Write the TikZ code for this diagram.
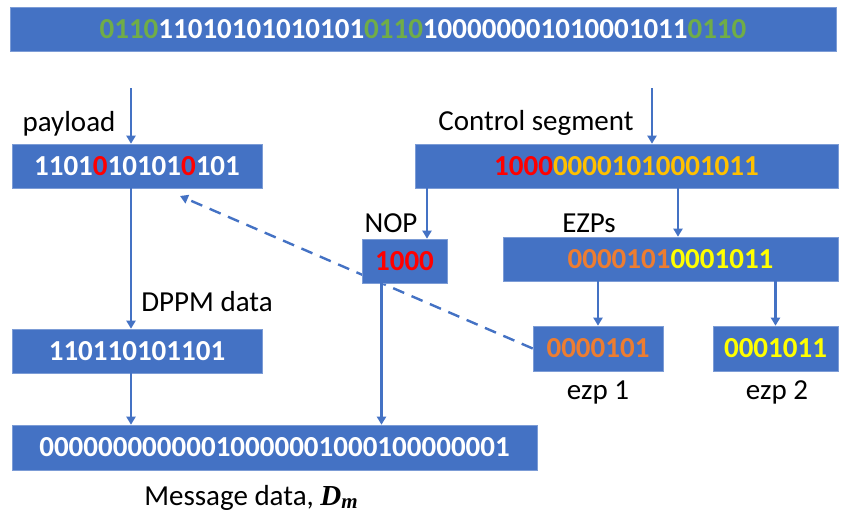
\documentclass[tikz,border=0pt]{standalone}
\usepackage{fontspec}
\setmainfont{Carlito}
\newfontfamily\symbfont{Liberation Serif}
\usepackage{tikz}
\usetikzlibrary{arrows.meta}
\usetikzlibrary{backgrounds}
\definecolor{boxblue}{HTML}{4472C4}
\definecolor{bitgreen}{HTML}{70AD47}
\definecolor{bitred}{HTML}{FF0000}
\definecolor{bitorange}{HTML}{ED7D31}
\definecolor{bitgold}{HTML}{FFC000}
\definecolor{bityellow}{HTML}{FFFF00}
\newcommand{\msgsym}{{\symbfont\bfseries\itshape D\raisebox{-3pt}{\fontsize{21}{24}\selectfont m}}}

\begin{document}
\begin{tikzpicture}[x=1pt,y=-1pt,
    bitbox/.style={fill=boxblue,draw=boxblue!70!white,line width=0.6pt,text=white,
        font=\fontsize{29}{34}\selectfont\bfseries,inner sep=0pt,minimum height=44pt},
    tag/.style={anchor=base,font=\fontsize{29}{34}\selectfont,text=black,inner sep=0pt},
    flow/.style={draw=boxblue,line width=2.4pt,-{Triangle[width=9pt,length=8pt]}}]
    \useasboundingbox (0,0) rectangle (844,514);
    % boxes
    \node[bitbox,minimum width=826pt] (frame) at (423,29)
        {\textcolor{bitgreen}{0110}11010101010101\textcolor{bitgreen}{0110}100000001010001011\textcolor{bitgreen}{0110}};
    \node[bitbox,minimum width=250pt] (payload) at (137,166)
        {1101\textcolor{bitred}{0}10101\textcolor{bitred}{0}101};
    \node[bitbox,minimum width=423pt] (control) at (626.5,166)
        {\textcolor{bitred}{1000}\textcolor{bitgold}{00001010001011}};
    \node[bitbox,minimum width=85pt] (nop) at (404.5,261) {\textcolor{bitred}{1000}};
    \node[bitbox,minimum width=335pt] (ezps) at (670.5,259)
        {\textcolor{bitorange}{0000101}\textcolor{bityellow}{0001011}};
    \node[bitbox,minimum width=130pt,minimum height=45pt] (ezpa) at (598,348.5) {\textcolor{bitorange}{0000101}};
    \node[bitbox,minimum width=125pt,minimum height=45pt] (ezpb) at (775.5,348.5) {\textcolor{bityellow}{0001011}};
    \node[bitbox,minimum width=250pt] (dppm) at (137,351) {110110101101};
    \node[bitbox,minimum width=525pt,minimum height=45pt] (message) at (274.5,447.5)
        {00000000000010000001000100000001};

    % labels
    \node[tag] (payloadtag) at (69,131) {payload};
    \node[tag] (controltag) at (536,130) {Control segment};
    \node[tag] (noptag) at (391,232) {NOP};
    \node[tag] (ezpstag) at (589,232) {EZPs};
    \node[tag] (dppmtag) at (207,311) {DPPM data};
    \node[tag] (ezpatag) at (598,399) {ezp 1};
    \node[tag] (ezpbtag) at (777,399) {ezp 2};
    \node[tag] (messagetag) at (251,505) {Message data, \msgsym};

    % arrows
    \coordinate (payin) at (131,88);
    \coordinate (ctlin) at (652,88);
    \coordinate (nopx) at (427,0);
    \coordinate (ezpx) at (678,0);
    \coordinate (msgx) at (381.5,0);
    \coordinate (dashend) at (180,196);
    \draw[flow] (payin) -- (payin |- payload.north);
    \draw[flow] (ctlin) -- (ctlin |- control.north);
    \draw[flow] (control.south -| nopx) -- (nop.north -| nopx);
    \draw[flow] (control.south -| ezpx) -- (ezps.north -| ezpx);
    \draw[flow] (ezps.south -| ezpa.north) -- (ezpa.north);
    \draw[flow] (ezps.south -| ezpb.north) -- (ezpb.north);
    \draw[flow] (payload.south -| payin) -- (dppm.north -| payin);
    \draw[flow] (dppm.south -| payin) -- (message.north -| payin);
    \draw[flow] (nop.south -| msgx) -- (message.north -| msgx);
    \begin{scope}[on background layer]
        \draw[flow,dash pattern=on 12pt off 8pt] (ezpa.west) -- (dashend);
    \end{scope}
\end{tikzpicture}
\end{document}
